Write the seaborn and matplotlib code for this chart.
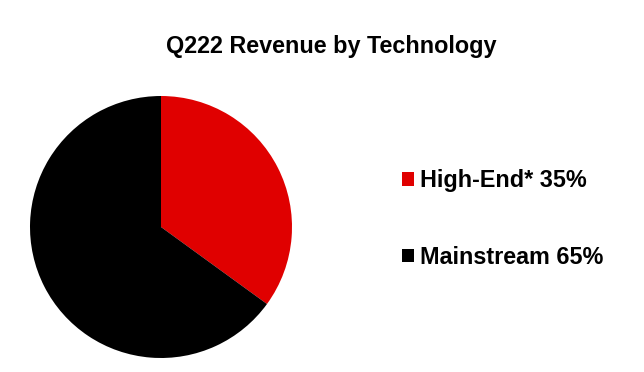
import matplotlib
matplotlib.use("Agg")
import matplotlib.pyplot as plt
import seaborn as sns

categories = ["High-End*", "Mainstream"]
shares = [35, 65]
colors = ["#E00000", "#000000"]
title = "Q222 Revenue by Technology"

sns.set_theme(style="white")
plt.rcParams['font.family'] = ['Liberation Sans', 'DejaVu Sans']
plt.rcParams['text.color'] = 'black'

fig = plt.figure(figsize=(6.44, 3.72), dpi=100)
ax = fig.add_axes([30/644, 14/372, 262/644, 262/372])
wedges, _ = ax.pie(shares, colors=colors, startangle=90, counterclock=False,
                   wedgeprops=dict(linewidth=0))
ax.set_xlim(-1, 1)
ax.set_ylim(-1, 1)
ax.set_aspect('equal')

fig.text(331/644, 1 - 47/372, title, ha='center', va='center',
         fontsize=16.8, fontweight='bold', color='black')

labels = [f"{c} {s}%" for c, s in zip(categories, shares)]
leg = fig.legend(wedges, labels, loc='upper left', bbox_to_anchor=(402/644, 1 - 169/372),
                 frameon=False, prop=dict(size=16.8, weight='bold'),
                 handlelength=0.52, handleheight=0.52, handletextpad=0.26,
                 labelspacing=2.3, borderaxespad=0, borderpad=0)
for t in leg.get_texts():
    t.set_color('black')

fig.savefig("out.png", dpi=100)
